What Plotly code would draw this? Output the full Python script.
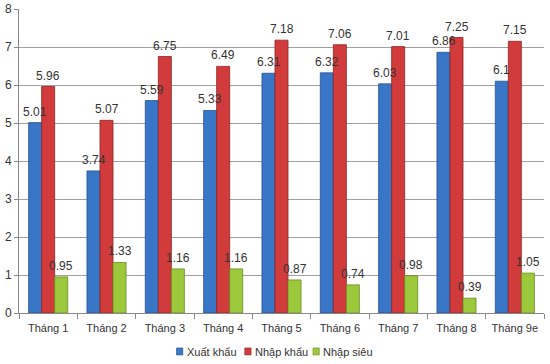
import plotly.graph_objects as go

months = ["Tháng 1", "Tháng 2", "Tháng 3", "Tháng 4", "Tháng 5", "Tháng 6", "Tháng 7", "Tháng 8", "Tháng 9e"]
xuat_khau = [5.01, 3.74, 5.59, 5.33, 6.31, 6.32, 6.03, 6.86, 6.1]
nhap_khau = [5.96, 5.07, 6.75, 6.49, 7.18, 7.06, 7.01, 7.25, 7.15]
nhap_sieu = [0.95, 1.33, 1.16, 1.16, 0.87, 0.74, 0.98, 0.39, 1.05]

series = [
    ("Xuất khẩu", xuat_khau, "#3a76c8", "#24528f"),
    ("Nhập khẩu", nhap_khau, "#d23b3b", "#8f2222"),
    ("Nhập siêu", nhap_sieu, "#9cc83c", "#6a8c22"),
]
label_shift = [-13, 0, 13]

fig = go.Figure()
for name, vals, col, line in series:
    fig.add_trace(go.Bar(
        x=months, y=vals, name=name,
        marker=dict(color=col, line=dict(color=line, width=0.8)),
        showlegend=False,
    ))

# value labels drawn on top of all bars
for (name, vals, col, line), dx in zip(series, label_shift):
    for m, v in zip(months, vals):
        fig.add_annotation(
            x=m, y=v, text=f"{v:g}", showarrow=False,
            xref="x", yref="y", xanchor="center", yanchor="bottom",
            xshift=dx, yshift=2,
            font=dict(family="Liberation Sans, Arial", size=12, color="#333333"),
        )

# legend (small square keys)
legend_x = [0.30, 0.43, 0.56]
for (name, vals, col, line), lx in zip(series, legend_x):
    fig.add_shape(type="rect", xref="paper", yref="paper",
                  x0=lx, x1=lx + 0.012, y0=-0.138, y1=-0.115,
                  fillcolor=col, line=dict(color=line, width=0.6))
    fig.add_annotation(x=lx + 0.016, y=-0.127, xref="paper", yref="paper",
                       text=name, showarrow=False, xanchor="left", yanchor="middle",
                       font=dict(family="Liberation Sans, Arial", size=11, color="#333333"))

fig.update_layout(
    width=550, height=364,
    margin=dict(l=19, r=6, t=9, b=51),
    paper_bgcolor="white", plot_bgcolor="white",
    barmode="group", bargap=0.33, bargroupgap=0,
    font=dict(family="Liberation Sans, Arial", size=12, color="#333333"),
    showlegend=False,
)
fig.update_xaxes(
    showline=True, linecolor="#888888", linewidth=1,
    ticks="outside", tickson="boundaries", ticklen=5, tickcolor="#888888",
    tickangle=0, tickfont=dict(size=11, color="#333333"), automargin=False,
    ticklabelstandoff=5,
)
fig.update_yaxes(
    range=[0, 8], dtick=1, showgrid=True, gridcolor="#a0a0a0", gridwidth=1,
    showline=True, linecolor="#888888", linewidth=1,
    ticks="outside", ticklen=4, tickcolor="#888888",
    tickfont=dict(size=12, color="#333333"), automargin=False, zeroline=False,
)
fig.write_html("out.html", config={"displayModeBar": False},
               post_script="document.body.style.margin='0px';")
